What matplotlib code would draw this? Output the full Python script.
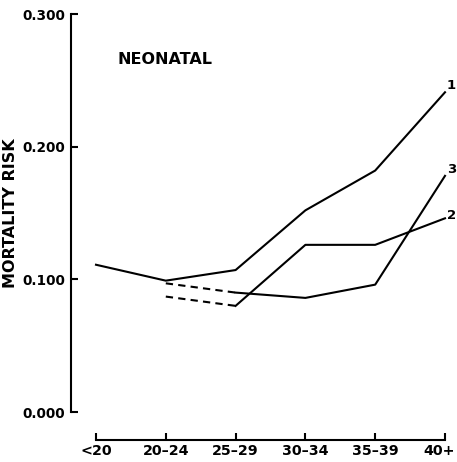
import matplotlib
matplotlib.use("Agg")
import matplotlib.pyplot as plt
from matplotlib.transforms import ScaledTranslation

age_groups = ["<20", "20–24", "25–29", "30–34", "35–39", "40+"]
y_ticks = [0.0, 0.1, 0.2, 0.3]
y_tick_labels = ["0.000", "0.100", "0.200", "0.300"]

# series 1: all age groups, solid
risk_1 = [0.111, 0.099, 0.107, 0.152, 0.182, 0.241]
# series 2 and 3 start at 20-24; first segment dashed
risk_2 = [0.087, 0.080, 0.126, 0.126, 0.146]
risk_3 = [0.097, 0.090, 0.086, 0.096, 0.178]

plt.rcParams['font.family'] = ['DejaVu Sans']

fig = plt.figure(figsize=(4.57, 4.62), dpi=100)
W, H = 457, 462
ax = fig.add_axes([71 / W, 1 - 412 / H, (448 - 71) / W, (412 - 14) / H])

px = 69.8
ax.set_xlim(-(96 - 71) / px, 5 + (448 - 445) / px)
ax.set_ylim(0, 0.3)

lw = 1.5
x1 = list(range(6))
ax.plot(x1, risk_1, color="black", lw=lw, clip_on=False)
for r in (risk_2, risk_3):
    ax.plot([1, 2], r[:2], color="black", lw=lw, ls=(0, (3.5, 2.5)), clip_on=False)
    ax.plot([2, 3, 4, 5], r[1:], color="black", lw=lw, clip_on=False)

for lab, r, dy in (("1", risk_1, 0.005), ("2", risk_2, 0.002), ("3", risk_3, 0.005)):
    ax.text(5.025, r[-1] + dy, lab, fontsize=9.5, fontweight="bold", ha="left", va="center",
            clip_on=False)

ax.text(0.31, 0.266, "NEONATAL", fontsize=11.5, fontweight="bold", ha="left", va="center")

for s in ("top", "right"):
    ax.spines[s].set_visible(False)
ax.spines["left"].set_bounds(0, 0.3)
ax.spines["left"].set_linewidth(1.5)
ax.spines["bottom"].set_position(("outward", 20))
ax.spines["bottom"].set_bounds(0, 5)
ax.spines["bottom"].set_linewidth(1.5)

ax.set_yticks(y_ticks)
ax.set_yticklabels(y_tick_labels, fontsize=9.8, fontweight="bold")
ax.set_xticks(x1)
ax.set_xticklabels(age_groups, fontsize=10.3, fontweight="bold")
ax.tick_params(axis="y", direction="in", length=5, width=1.5, pad=4)
ax.tick_params(axis="x", direction="in", length=5, width=1.5, pad=3)

# last tick label sits a little left, as in the original
last = ax.get_xticklabels()[-1]
last.set_transform(last.get_transform() + ScaledTranslation(-6 / 100, 0, fig.dpi_scale_trans))

ax.set_ylabel("MORTALITY RISK", fontsize=11.5, fontweight="bold", labelpad=3)

fig.savefig("out.png", dpi=100)
